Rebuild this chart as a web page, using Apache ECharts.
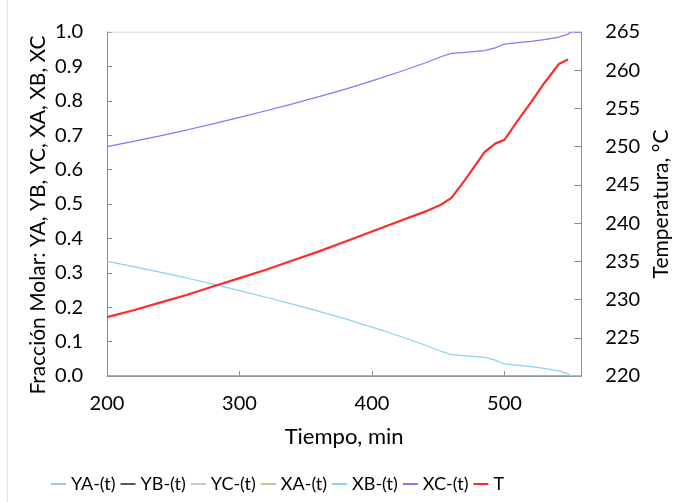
<!DOCTYPE html>
<html>
<head>
<meta charset="utf-8">
<script src="https://cdn.jsdelivr.net/npm/echarts@6/dist/echarts.min.js"></script>
<style>
html,body{margin:0;padding:0;background:#fff;}
#chart{width:680px;height:502px;}
</style>
</head>
<body>
<div id="chart"></div>
<script>
const tiempo = [200,220,240,260,280,300,320,340,360,380,400,420,440,452,460,470,485,493,500,510,520,530,541,548,550,558];
const YA = [0,0,0,0,0,0,0,0,0,0,0,0,0,0,0,0,0,0,0,0,0,0,0,0,0,0];
const YB = [0,0,0,0,0,0,0,0,0,0,0,0,0,0,0,0,0,0,0,0,0,0,0,0,0,0];
const YC = [1,1,1,1,1,1,1,1,1,1,1,1,1,1,1,1,1,1,1,1,1,1,1,1,1,1];
const XA = [0,0,0,0,0,0,0,0,0,0,0,0,0,0,0,0,0,0,0,0,0,0,0,0,0,0];
const XB = [0.333,0.318,0.302,0.285,0.267,0.248,0.229,0.209,0.188,0.166,0.142,0.117,0.090,0.072,0.062,0.059,0.054,0.046,0.035,0.031,0.027,0.022,0.015,0.006,0.000,0.000];
const XC = [0.667,0.682,0.698,0.715,0.733,0.752,0.771,0.791,0.812,0.834,0.858,0.883,0.910,0.928,0.938,0.941,0.946,0.954,0.965,0.969,0.973,0.978,0.985,0.994,1.000,1.000];
const T  = [227.7,228.6,229.6,230.6,231.7,232.8,233.9,235.1,236.3,237.6,238.9,240.2,241.5,242.4,243.3,245.6,249.3,250.4,250.9,253.4,255.8,258.3,260.8,261.4,null,null];

const names = ['YA-(t)','YB-(t)','YC-(t)','XA-(t)','XB-(t)','XC-(t)','T'];
const colors = ['#9dc3e6','#595959','#c9c9c9','#a9d18e','#87d4f2','#7b7bf5','#ff2b2b'];
const values = [YA,YB,YC,XA,XB,XC,T];
const leftTitle = 'Fracción Molar: YA, YB, YC, XA, XB, XC';

const FONT = 'Lato';
const pair = arr => tiempo.map((t,i)=>[t,arr[i]]);

const series = names.map((n,i)=>({
  name:n, type:'line', data:pair(values[i]), yAxisIndex: n==='T'?1:0,
  showSymbol:false, symbol:'none', smooth:false, connectNulls:false,
  lineStyle:{color:colors[i], width: n==='T'?2.2:1.2},
  itemStyle:{color:colors[i]}, z: 2+i
}));

const chart = echarts.init(document.getElementById('chart'),null,{renderer:'canvas'});
chart.setOption({
  animation:false,
  backgroundColor:'#fff',
  textStyle:{fontFamily:FONT},
  grid:{left:107,right:92,top:32,bottom:126,containLabel:false},
  legend:{
    left:46, top:470, icon:'rect', itemWidth:15, itemHeight:2, itemGap:5,
    textStyle:{fontFamily:FONT,fontSize:18,color:'#000'},
    data:names.map((n,i)=>({name:n,itemStyle:{color:colors[i]}}))
  },
  xAxis:{
    type:'value', min:200, max:558, interval:100,
    name:'Tiempo, min', nameLocation:'middle', nameGap:50,
    nameTextStyle:{fontFamily:FONT,fontSize:22,color:'#000'},
    axisLine:{show:true,lineStyle:{color:'#8c8c8c',width:1}},
    axisTick:{show:true,inside:true,length:5,lineStyle:{color:'#8c8c8c'}},
    axisLabel:{fontFamily:FONT,fontSize:20,color:'#000',margin:18,
      formatter:v=> (v%100===0? String(v):'')},
    splitLine:{show:false}
  },
  yAxis:[{
    type:'value', min:0, max:1, interval:0.1, position:'left',
    axisLine:{show:true,lineStyle:{color:'#8c8c8c',width:1}},
    axisTick:{show:true,inside:true,length:5,lineStyle:{color:'#8c8c8c'}},
    axisLabel:{fontFamily:FONT,fontSize:20,color:'#000',margin:24,formatter:v=>v.toFixed(1)},
    splitLine:{show:false}
  },{
    type:'value', min:220, max:265, interval:5, position:'right',
    name:'Temperatura, °C', nameLocation:'middle', nameGap:66,
    nameTextStyle:{fontFamily:FONT,fontSize:21,color:'#000'},
    axisLine:{show:true,lineStyle:{color:'#8c8c8c',width:1}},
    axisTick:{show:true,inside:true,length:7,lineStyle:{color:'#8c8c8c'}},
    axisLabel:{fontFamily:FONT,fontSize:20,color:'#000',margin:24},
    splitLine:{show:false}
  }],
  graphic:[
    {type:'line',shape:{x1:7.5,y1:0,x2:7.5,y2:502},style:{stroke:'#e4e4e4',lineWidth:1},silent:true},
    {type:'text',x:38,y:215,rotation:Math.PI/2,silent:true,
     style:{text:leftTitle,fontFamily:FONT,fontSize:21,fill:'#000',align:'center',verticalAlign:'middle'}}
  ],
  series:series
});
</script>
</body>
</html>
